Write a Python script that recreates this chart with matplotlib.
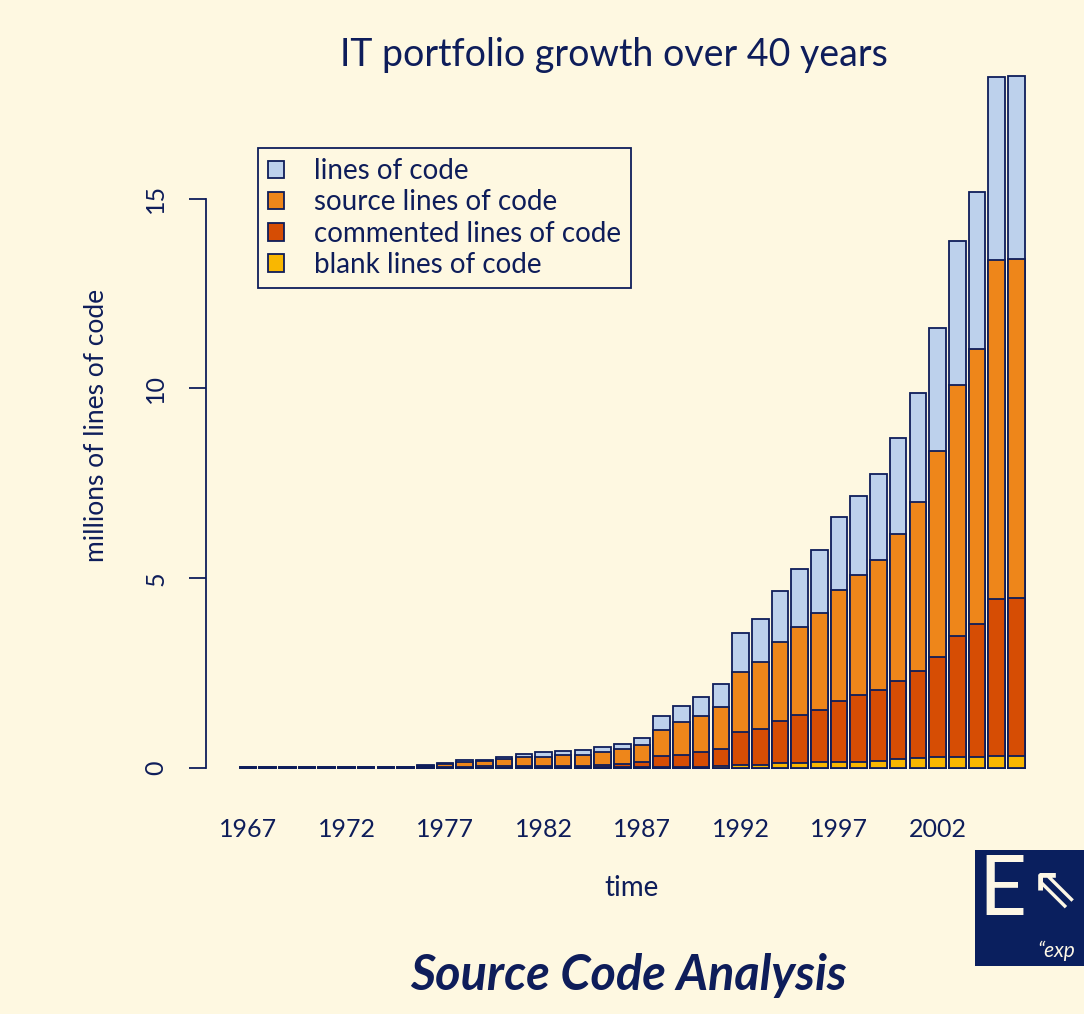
import numpy as np
import matplotlib.pyplot as plt
from matplotlib.patches import Rectangle

plt.rcParams['font.family'] = ['Lato', 'DejaVu Sans']

years = np.arange(1967, 2007)
tick_years = [1967, 1972, 1977, 1982, 1987, 1992, 1997, 2002]

# levels (millions of lines), one value per year
loc_total = [0.02, 0.02, 0.02, 0.02, 0.02, 0.02, 0.02, 0.02, 0.03, 0.08,
             0.13, 0.20, 0.22, 0.28, 0.37, 0.42, 0.46, 0.47, 0.55, 0.64,
             0.78, 1.37, 1.62, 1.88, 2.21, 3.55, 3.92, 4.67, 5.24, 5.75,
             6.62, 7.17, 7.74, 8.69, 9.88, 11.58, 13.89, 15.17, 18.21, 18.24]
sloc_top = [0.015, 0.015, 0.015, 0.015, 0.015, 0.015, 0.015, 0.015, 0.02, 0.06,
            0.11, 0.17, 0.19, 0.24, 0.28, 0.30, 0.35, 0.35, 0.42, 0.49,
            0.61, 1.00, 1.20, 1.38, 1.61, 2.52, 2.78, 3.31, 3.71, 4.09,
            4.68, 5.08, 5.48, 6.17, 7.02, 8.36, 10.10, 11.04, 13.39, 13.42]
cloc_top = [0.01, 0.01, 0.01, 0.01, 0.01, 0.01, 0.01, 0.01, 0.01, 0.02,
            0.03, 0.03, 0.04, 0.04, 0.05, 0.05, 0.06, 0.06, 0.08, 0.10,
            0.17, 0.31, 0.34, 0.43, 0.51, 0.95, 1.03, 1.24, 1.39, 1.53,
            1.77, 1.92, 2.06, 2.29, 2.56, 2.92, 3.48, 3.79, 4.46, 4.47]
blank_top = [0.005, 0.005, 0.005, 0.005, 0.005, 0.005, 0.005, 0.005, 0.005, 0.01,
             0.01, 0.01, 0.01, 0.01, 0.015, 0.015, 0.015, 0.015, 0.02, 0.02,
             0.03, 0.03, 0.03, 0.03, 0.04, 0.08, 0.09, 0.12, 0.12, 0.15,
             0.15, 0.17, 0.19, 0.23, 0.25, 0.28, 0.30, 0.30, 0.32, 0.32]

labels = ['lines of code', 'source lines of code',
          'commented lines of code', 'blank lines of code']
colors = ['#BDD1EC', '#EE861A', '#D64D04', '#F9B701']

bg = '#FEF8E1'
navy = '#0E1D5A'

fig = plt.figure(figsize=(10.84, 10.14), dpi=100, facecolor=bg)
ax = fig.add_axes([0.190, 0.2153, 0.784, 0.7374], facecolor=bg)

for vals, col, lab in zip([loc_total, sloc_top, cloc_top, blank_top], colors, labels):
    ax.bar(years, vals, width=0.84, color=col, edgecolor=navy, linewidth=1.3, label=lab)

ax.set_xlim(1964.87, 2008.0)
ax.set_ylim(-0.73, 18.97)

for s in ['top', 'right', 'bottom']:
    ax.spines[s].set_visible(False)
ax.spines['left'].set_bounds(0, 15)
ax.spines['left'].set_color(navy)
ax.spines['left'].set_linewidth(1.3)

ax.set_yticks([0, 5, 10, 15])
ax.set_yticklabels(['0', '5', '10', '15'], rotation=90, va='center')
ax.tick_params(axis='y', length=12, width=1.3, color=navy, pad=16,
               labelsize=18, labelcolor=navy)
ax.set_xticks(tick_years)
ax.set_xticklabels([str(y) for y in tick_years])
ax.tick_params(axis='x', length=0, pad=16, labelsize=18, labelcolor=navy)

leg = ax.legend(loc='upper left', bbox_to_anchor=(0.061, 0.866), fontsize=20,
                frameon=True, fancybox=False, edgecolor=navy, facecolor=bg,
                handlelength=0.6, handleheight=0.6, handletextpad=1.05,
                labelspacing=0.19, borderpad=0.36, borderaxespad=0,
                labelcolor=navy)
leg.get_frame().set_linewidth(1.3)
leg.get_frame().set_alpha(None)

fig.text(614 / 1084, 1 - 55 / 1014, 'IT portfolio growth over 40 years',
         ha='center', va='center', fontsize=27, color=navy)
fig.text(97 / 1084, 1 - 425 / 1014, 'millions of lines of code',
         rotation=90, ha='center', va='center', fontsize=19, color=navy)
fig.text(632 / 1084, 1 - 888 / 1014, 'time',
         ha='center', va='center', fontsize=20, color=navy)
fig.text(628 / 1084, 1 - 975 / 1014, 'Source Code Analysis',
         ha='center', va='center', fontsize=35, color=navy,
         fontweight='bold', fontstyle='italic')

# logo block, bottom right
fig.patches.append(Rectangle((975 / 1084, 48 / 1014), 109 / 1084, 116 / 1014,
                             transform=fig.transFigure, facecolor='#0A1F5E',
                             edgecolor='none'))
fig.text(1002 / 1084, 1 - 892 / 1014, 'E', ha='center', va='center',
         fontsize=60, color='#FDF7E6')
fig.text(1054 / 1084, 1 - 890 / 1014, '\u21d6', ha='center', va='center',
         fontsize=42, color='#FDF7E6', family=['DejaVu Sans'])
fig.text(1037 / 1084, 1 - 951 / 1014, '\u201cexp', ha='left', va='center',
         fontsize=15, color='#FDF7E6', fontstyle='italic')

fig.savefig('out.png', dpi=100, facecolor=bg)
